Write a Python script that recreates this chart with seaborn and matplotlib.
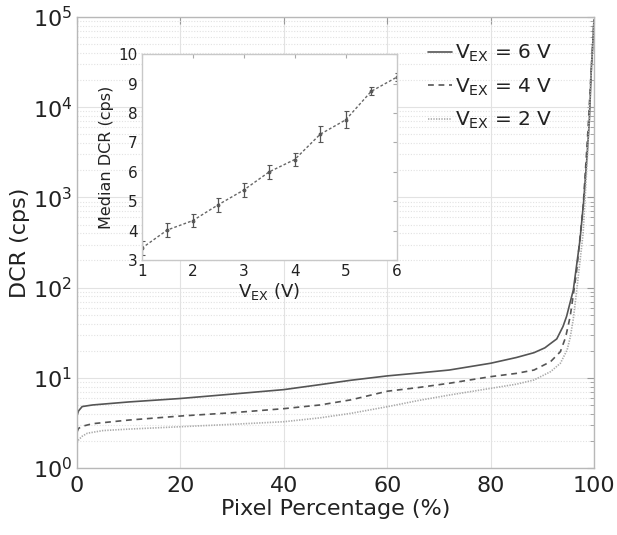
import numpy as np
import pandas as pd
import matplotlib
matplotlib.use("Agg")
import matplotlib.pyplot as plt
import seaborn as sns
from matplotlib.ticker import LogLocator, NullFormatter

# ---- main curves data ----
x_6v = [0, 0.3, 1, 3, 10, 20, 30, 40, 47, 53, 60, 66, 72, 80, 85, 88.4, 90.5, 91.6,
        92.8, 94, 94.7, 96, 97.3, 98, 98.6, 99.1, 99.5, 99.8, 100]
y_6v = [3.8, 4.3, 4.8, 5.0, 5.4, 5.9, 6.6, 7.4, 8.4, 9.4, 10.5, 11.3, 12.2, 14.5, 16.8,
        19, 21.5, 24, 27, 37, 48, 94, 340, 900, 2600, 7000, 28000, 55000, 93000]

x_4v = [0, 0.3, 1, 3, 10, 20, 30, 40, 47, 53, 60, 66, 72, 80, 85, 88.4, 91.6, 93.5,
        94.5, 95.4, 96.6, 97.9, 98.8, 99.4, 99.8, 100]
y_4v = [2.5, 2.75, 2.9, 3.1, 3.4, 3.77, 4.1, 4.55, 5.0, 5.7, 7.1, 7.8, 8.7, 10.3, 11.2,
        12.2, 15.1, 19.5, 28, 48, 145, 790, 5100, 22000, 55000, 90000]

x_2v = [0, 0.3, 1, 2, 5, 10, 20, 30, 40, 47, 53, 60, 66, 72, 80, 85, 88.4, 91.6, 93.5,
        94.8, 95.4, 96.0, 96.6, 97.9, 98.8, 99.5, 99.8, 100]
y_2v = [1.9, 2.05, 2.25, 2.43, 2.6, 2.7, 2.87, 3.05, 3.26, 3.6, 4.04, 4.78, 5.6, 6.44,
        7.64, 8.5, 9.46, 11.7, 14.5, 20.4, 28, 45, 87, 400, 3300, 28000, 55000, 90000]

labels = [r"V$_{\mathrm{EX}}$ = 6 V", r"V$_{\mathrm{EX}}$ = 4 V", r"V$_{\mathrm{EX}}$ = 2 V"]

# ---- inset data ----
vex = [1, 1.5, 2, 2.5, 3, 3.5, 4, 4.5, 5, 5.5, 6]
median_dcr = [3.40, 4.02, 4.34, 4.88, 5.38, 6.00, 6.42, 7.28, 7.77, 8.74, 9.22]
median_err = [0.24, 0.23, 0.21, 0.23, 0.23, 0.23, 0.22, 0.28, 0.29, 0.14, 0.14]

sns.set_style("white")
plt.rcParams["font.family"] = ["DejaVu Sans"]
plt.rcParams["mathtext.default"] = "regular"

fig = plt.figure(figsize=(6.17, 5.35), dpi=100)
ax = fig.add_axes([0.1248, 0.1252, 0.8379, 0.843])

df = pd.concat([
    pd.DataFrame({"x": x_6v, "y": y_6v, "s": labels[0]}),
    pd.DataFrame({"x": x_4v, "y": y_4v, "s": labels[1]}),
    pd.DataFrame({"x": x_2v, "y": y_2v, "s": labels[2]}),
])
styles = [("#555555", "-", 1.2), ("#555555", (0, (3.5, 2.8)), 1.2),
          ("#aaaaaa", (0, (0.8, 0.8)), 1.2)]
for lab, (c, ls, lw) in zip(labels, styles):
    sub = df[df["s"] == lab]
    sns.lineplot(data=sub, x="x", y="y", ax=ax, color=c, linestyle=ls, lw=lw,
                 label=lab, sort=False, estimator=None)

ax.set_yscale("log")
ax.set_xlim(0, 100)
ax.set_ylim(1, 1e5)
ax.set_xticks([0, 20, 40, 60, 80, 100])
ax.yaxis.set_major_locator(LogLocator(base=10, numticks=10))
ax.yaxis.set_minor_locator(LogLocator(base=10, subs=np.arange(2, 10), numticks=20))
ax.yaxis.set_minor_formatter(NullFormatter())
ax.grid(True, which="major", color="#e2e2e2", lw=0.8, ls="-")
ax.grid(True, which="minor", axis="y", color="#e2e2e2", lw=0.8, ls=(0, (1, 1.5)))
for sp in ax.spines.values():
    sp.set_color("#b8b8b8")
    sp.set_linewidth(1.0)
ax.tick_params(which="both", direction="in", top=True, right=True, color="#999999",
               labelsize=16, labelcolor="#222222")
ax.tick_params(which="major", length=5)
ax.tick_params(which="minor", length=3)
ax.tick_params(axis="x", pad=6)
ax.set_xlabel("Pixel Percentage (%)", fontsize=16, color="#222222", labelpad=2)
ax.set_ylabel("DCR (cps)", fontsize=16, color="#222222", labelpad=2)
leg = ax.legend(loc="upper right", frameon=False, fontsize=14.5, handlelength=1.2,
                handletextpad=0.15, labelspacing=0.6, borderaxespad=0.0,
                bbox_to_anchor=(0.935, 0.96))
for t in leg.get_texts():
    t.set_color("#222222")

# ---- inset ----
axi = fig.add_axes([0.2297, 0.514, 0.4133, 0.3845])
axi.set_facecolor("white")
sns.lineplot(x=vex, y=median_dcr, ax=axi, color="#666666", linestyle=(0, (2, 1.5)),
             lw=1.0, marker="o", markersize=2, markeredgecolor="#555555")
axi.errorbar(vex, median_dcr, yerr=median_err, fmt="none", ecolor="#555555",
             elinewidth=0.9, capsize=1.8, capthick=0.8)
axi.set_xlim(1, 6)
axi.set_ylim(3, 10)
axi.set_xticks([1, 2, 3, 4, 5, 6])
axi.set_yticks([3, 4, 5, 6, 7, 8, 9, 10])
for sp in axi.spines.values():
    sp.set_color("#c8c8c8")
    sp.set_linewidth(1.0)
axi.tick_params(direction="in", top=True, right=True, length=3, color="#aaaaaa",
                labelsize=11, labelcolor="#222222", pad=3)
axi.set_xlabel(r"V$_{\mathrm{EX}}$ (V)", fontsize=13, color="#222222", labelpad=1)
axi.set_ylabel("Median DCR (cps)", fontsize=11.5, color="#222222", labelpad=3)

fig.savefig("out.png", dpi=100)
